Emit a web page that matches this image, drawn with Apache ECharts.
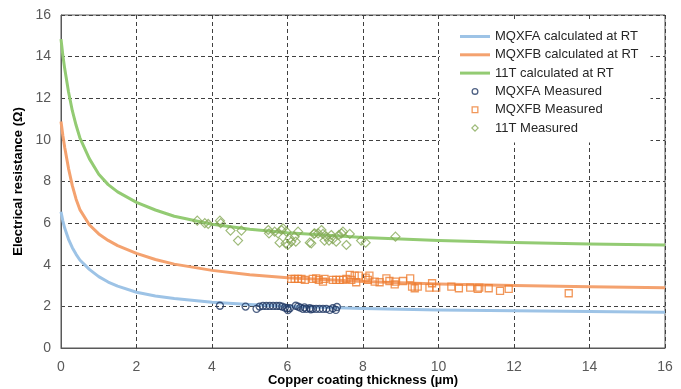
<!DOCTYPE html>
<html>
<head>
<meta charset="utf-8">
<script src="https://cdn.jsdelivr.net/npm/echarts@6/dist/echarts.min.js"></script>
<style>
html,body{margin:0;padding:0;background:#fff;}
#chart{width:681px;height:389px;}
</style>
</head>
<body>
<div id="chart"></div>
<script>
// Thickness values (µm) at which calculated curves were read
var tCurve    = [0, 0.05, 0.1, 0.2, 0.3, 0.4, 0.5, 0.75, 1, 1.25, 1.5, 2, 2.5, 3, 4, 5, 6, 8, 10, 12, 14, 16];
var mqxfaCalc = [6.55, 6.1, 5.75, 5.22, 4.82, 4.5, 4.23, 3.78, 3.43, 3.17, 2.97, 2.68, 2.5, 2.38, 2.2, 2.09, 2.01, 1.9, 1.83, 1.79, 1.75, 1.72];
var mqxfbCalc = [10.88, 10.2, 9.62, 8.62, 7.8, 7.15, 6.65, 5.92, 5.48, 5.17, 4.92, 4.55, 4.25, 4.03, 3.73, 3.52, 3.37, 3.19, 3.07, 3.0, 2.94, 2.9];
var t11Calc   = [14.84, 14.05, 13.4, 12.3, 11.4, 10.7, 10.1, 9.1, 8.35, 7.85, 7.5, 7.0, 6.63, 6.33, 5.95, 5.71, 5.54, 5.31, 5.17, 5.07, 5.0, 4.95];

var mqxfaMeasured = [
  [4.21,2.03],[4.89,1.99],[5.18,1.88],[5.26,1.99],[5.35,2.02],[5.44,2.02],[5.53,2.02],[5.62,2.02],
  [5.71,2.02],[5.79,2.02],[5.86,1.99],[5.93,1.94],[5.99,1.91],[6.06,1.91],[6.01,1.82],[6.22,2.03],
  [6.28,1.99],[6.34,1.94],[6.41,1.88],[6.50,1.88],[6.59,1.91],[6.67,1.88],[6.76,1.88],[6.85,1.88],
  [6.94,1.88],[7.03,1.88],[7.12,1.83],[7.20,1.91],[7.28,1.83],[7.31,1.97],[6.45,1.95],[6.62,1.86]
];
var mqxfbMeasured = [
  [6.10,3.32],[6.19,3.32],[6.28,3.32],[6.37,3.32],[6.46,3.27],[6.67,3.32],[6.76,3.35],[6.83,3.27],
  [6.94,3.19],[6.98,3.32],[7.20,3.27],[7.29,3.27],[7.38,3.27],[7.47,3.27],[7.56,3.32],[7.65,3.51],
  [7.69,3.27],[7.78,3.48],[7.82,3.16],[7.89,3.48],[8.07,3.38],[8.13,3.27],[8.17,3.48],[8.31,3.19],
  [8.44,3.16],[8.62,3.35],[8.70,3.22],[8.84,3.06],[8.86,3.19],[9.06,3.22],[9.25,3.35],[9.30,2.95],
  [9.37,2.87],[9.45,2.95],[9.76,2.90],[9.83,3.11],[9.94,2.90],[10.34,2.95],[10.54,2.87],[10.84,2.90],
  [11.04,2.84],[11.08,2.90],[11.33,2.87],[11.63,2.74],[11.86,2.84],[13.45,2.63]
];
var t11Measured = [
  [3.61,6.12],[3.81,6.00],[3.90,5.96],[4.21,6.12],[4.23,6.00],[4.49,5.64],[4.78,5.64],[4.69,5.16],
  [5.49,5.67],[5.51,5.51],[5.66,5.59],[5.75,5.51],[5.84,5.67],[5.88,5.75],[5.97,5.59],[5.79,5.06],
  [5.95,5.03],[6.06,5.27],[6.10,5.11],[6.19,5.35],[6.22,5.11],[6.28,5.59],[6.01,4.95],[6.59,5.06],
  [6.70,5.48],[6.63,5.03],[6.72,5.51],[6.81,5.51],[6.90,5.67],[6.94,5.48],[6.98,5.16],[7.03,5.35],
  [7.10,5.16],[7.16,5.43],[7.20,5.23],[7.29,5.11],[7.36,5.43],[7.43,5.51],[7.47,5.59],[7.56,4.95],
  [7.65,5.48],[7.95,5.16],[8.07,5.06],[8.86,5.35]
];

var seriesNames = ['MQXFA calculated at RT', 'MQXFB calculated at RT', '11T calculated at RT', 'MQXFA Measured', 'MQXFB Measured', '11T Measured'];
var xTicks = [0, 2, 4, 6, 8, 10, 12, 14, 16];
var yTicks = [0, 2, 4, 6, 8, 10, 12, 14, 16];

function pairs(xs, ys) { return xs.map(function (x, i) { return [x, ys[i]]; }); }

var C_A = '#9DC3E6', C_B = '#F4A26F', C_T = '#93CB73';
var M_A = '#203864', M_B = '#ED7D31', M_T = '#86A958';

// legend icon shapes (box 30x10 fixed by corner points)
var BOX = 'M0,0L0,0M30,10L30,10';
var ICON_LINE = 'path://' + BOX + 'M0,3.5L30,3.5L30,6.5L0,6.5Z';
var ICON_CIRCLE = 'path://' + BOX + 'M15,1.5A3.5,3.5 0 1,1 15,8.5A3.5,3.5 0 1,1 15,1.5ZM15,2.8A2.2,2.2 0 1,0 15,7.2A2.2,2.2 0 1,0 15,2.8Z';
var ICON_SQUARE = 'path://' + BOX + 'M11.5,1.5L18.5,1.5L18.5,8.5L11.5,8.5ZM12.8,2.8L12.8,7.2L17.2,7.2L17.2,2.8Z';
var ICON_DIAMOND = 'path://' + BOX + 'M15,1L19,5L15,9L11,5ZM15,2.7L12.7,5L15,7.3L17.3,5Z';

var font = 'Liberation Sans';
var chart = echarts.init(document.getElementById('chart'), null, {renderer: 'canvas'});
chart.setOption({
  backgroundColor: '#fff',
  animation: false,
  grid: {left: 61, right: 16, top: 15, bottom: 41, containLabel: false, outerBoundsMode: 'none',
         show: true, borderColor: '#595959', borderWidth: 1, backgroundColor: 'transparent'},
  legend: {
    orient: 'vertical', left: 440, top: 22, padding: [8, 12, 8, 20],
    backgroundColor: '#fff', itemWidth: 30, itemHeight: 10, itemGap: 5.3,
    textStyle: {fontFamily: font, fontSize: 13, color: '#262626', lineHeight: 13},
    data: [
      {name: seriesNames[0], icon: ICON_LINE, itemStyle: {color: C_A, borderWidth: 0}},
      {name: seriesNames[1], icon: ICON_LINE, itemStyle: {color: C_B, borderWidth: 0}},
      {name: seriesNames[2], icon: ICON_LINE, itemStyle: {color: C_T, borderWidth: 0}},
      {name: seriesNames[3], icon: ICON_CIRCLE, itemStyle: {color: M_A, borderWidth: 0}},
      {name: seriesNames[4], icon: ICON_SQUARE, itemStyle: {color: M_B, borderWidth: 0}},
      {name: seriesNames[5], icon: ICON_DIAMOND, itemStyle: {color: M_T, borderWidth: 0}}
    ]
  },
  xAxis: {
    type: 'value', min: xTicks[0], max: xTicks[xTicks.length - 1], interval: 2,
    name: 'Copper coating thickness (µm)', nameLocation: 'middle', nameGap: 26, nameMoveOverlap: false,
    nameTextStyle: {fontFamily: font, fontSize: 13, fontWeight: 'bold', color: '#000', lineHeight: 13},
    axisLine: {show: true, lineStyle: {color: '#595959', width: 1}},
    axisTick: {show: false},
    axisLabel: {fontFamily: font, fontSize: 14, color: '#595959', margin: 12},
    splitLine: {show: true, lineStyle: {color: '#404040', width: 1, type: [4, 3]}}
  },
  yAxis: {
    type: 'value', min: yTicks[0], max: yTicks[yTicks.length - 1], interval: 2,
    name: 'Electrical resistance (Ω)', nameLocation: 'middle', nameGap: 36, nameRotate: 90, nameMoveOverlap: false,
    nameTextStyle: {fontFamily: font, fontSize: 13, fontWeight: 'bold', color: '#000'},
    axisLine: {show: true, lineStyle: {color: '#595959', width: 1}},
    axisTick: {show: false},
    axisLabel: {fontFamily: font, fontSize: 14, color: '#595959', margin: 10},
    splitLine: {show: true, lineStyle: {color: '#404040', width: 1, type: [4, 3]}}
  },
  series: [
    {name: seriesNames[0], type: 'line', data: pairs(tCurve, mqxfaCalc), symbol: 'none', smooth: false,
     color: C_A, lineStyle: {color: C_A, width: 3, join: 'round'}, z: 2},
    {name: seriesNames[1], type: 'line', data: pairs(tCurve, mqxfbCalc), symbol: 'none', smooth: false,
     color: C_B, lineStyle: {color: C_B, width: 3, join: 'round'}, z: 2},
    {name: seriesNames[2], type: 'line', data: pairs(tCurve, t11Calc), symbol: 'none', smooth: false,
     color: C_T, lineStyle: {color: C_T, width: 3, join: 'round'}, z: 2},
    {name: seriesNames[3], type: 'scatter', data: mqxfaMeasured, symbol: 'circle', symbolSize: 7,
     color: M_A, itemStyle: {color: 'rgba(255,255,255,0)', borderColor: M_A, borderWidth: 1.3}, z: 3},
    {name: seriesNames[4], type: 'scatter', data: mqxfbMeasured, symbol: 'rect', symbolSize: 7,
     color: M_B, itemStyle: {color: 'rgba(255,255,255,0)', borderColor: M_B, borderWidth: 1.3}, z: 3},
    {name: seriesNames[5], type: 'scatter', data: t11Measured, symbol: 'diamond', symbolSize: 9,
     color: M_T, itemStyle: {color: 'rgba(255,255,255,0)', borderColor: M_T, borderWidth: 1.2}, z: 3}
  ]
});
</script>
</body>
</html>
